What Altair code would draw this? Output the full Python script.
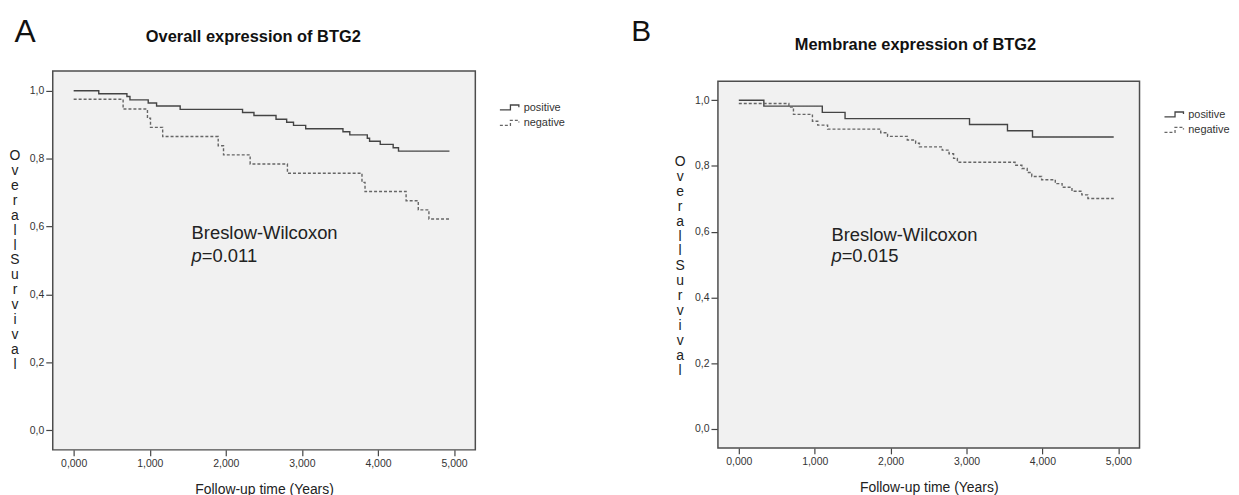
import altair as alt
import pandas as pd

FONT = "Liberation Sans"
GROUPS = ["positive", "negative"]
X_TICKS = [0, 1, 2, 3, 4, 5]
Y_TICKS = [0.0, 0.2, 0.4, 0.6, 0.8, 1.0]
Y_TITLE = list("Overall") + list("Survival")

# Panel A: Overall expression of BTG2
A_POS_T = [0, 0.33, 0.70, 0.74, 0.98, 1.09, 1.40, 2.22, 2.37, 2.66, 2.80, 2.89, 3.05, 3.54, 3.63, 3.86, 3.89, 4.03, 4.20, 4.27, 4.94]
A_POS_S = [1.0, 0.991, 0.983, 0.973, 0.964, 0.955, 0.945, 0.936, 0.927, 0.916, 0.907, 0.898, 0.888, 0.879, 0.870, 0.860, 0.851, 0.842, 0.832, 0.822, 0.822]
A_NEG_T = [0, 0.65, 0.97, 1.01, 1.17, 1.90, 1.97, 2.32, 2.81, 3.79, 3.83, 4.37, 4.53, 4.67, 4.94]
A_NEG_S = [0.975, 0.946, 0.919, 0.892, 0.865, 0.838, 0.811, 0.784, 0.757, 0.730, 0.703, 0.676, 0.649, 0.622, 0.622]

# Panel B: Membrane expression of BTG2
B_POS_T = [0, 0.33, 1.10, 1.40, 3.04, 3.54, 3.87, 4.94]
B_POS_S = [1.0, 0.982, 0.963, 0.944, 0.926, 0.907, 0.888, 0.888]
B_NEG_T = [0, 0.66, 0.72, 0.97, 1.04, 1.17, 1.87, 1.96, 2.22, 2.33, 2.38, 2.68, 2.77, 2.83, 2.88,
           3.64, 3.73, 3.80, 3.86, 3.99, 4.17, 4.26, 4.39, 4.52, 4.60, 4.94]
B_NEG_S = [0.990, 0.979, 0.957, 0.936, 0.924, 0.912, 0.901, 0.890, 0.879, 0.869, 0.858, 0.848, 0.837, 0.823, 0.811,
           0.802, 0.792, 0.780, 0.768, 0.758, 0.746, 0.735, 0.723, 0.712, 0.701, 0.701]

TITLES = ["Overall expression of BTG2", "Membrane expression of BTG2"]
LETTERS = ["A", "B"]
TEST_NAME = "Breslow-Wilcoxon"
P_TEXT = ["=0.011", "=0.015"]

X_DOMAIN = [-0.275, 5.28]

LEGEND_PATH = "M-1.4,0.3H0.1V-0.4H1.3V-0.1"


def panel(pos_t, pos_s, neg_t, neg_s, title, letter, ptext, w, h, lay):
    df = pd.DataFrame({
        "t": pos_t + neg_t,
        "s": pos_s + neg_s,
        "group": ["positive"] * len(pos_t) + ["negative"] * len(neg_t),
    })
    xax = alt.Axis(values=X_TICKS, format=".3f", labelExpr="replace(datum.label, '.', ',')",
                   title="Follow-up time (Years)", titleFontSize=14, titlePadding=13,
                   tickSize=6, labelPadding=3, labelFontSize=10.5)
    yax = alt.Axis(values=Y_TICKS, format=".1f", labelExpr="replace(datum.label, '.', ',')",
                   title=Y_TITLE, titleAngle=0, titleX=-38.5, titleY=lay["ytitle_y"],
                   titleAlign="center", titleBaseline="middle", titleFontSize=14,
                   titleLineHeight=15, tickSize=7, labelPadding=2, labelFontSize=10.5)
    xs = alt.Scale(domain=X_DOMAIN, nice=False, zero=False)
    ys = alt.Scale(domain=lay["y_domain"], nice=False, zero=False)
    X = alt.X("t:Q", scale=xs, axis=xax)
    Y = alt.Y("s:Q", scale=ys, axis=yax)
    leg = alt.Legend(orient="none", legendX=lay["leg_x"], legendY=lay["leg_y"],
                     symbolType=LEGEND_PATH, symbolSize=200, symbolStrokeWidth=1.3,
                     symbolFillColor="transparent", labelFontSize=11, labelFont=FONT,
                     labelColor="#333", labelOffset=6, rowPadding=2.5, padding=0)
    head_df = pd.DataFrame({"lab": [letter], "title": [title]})

    frame = alt.Chart(head_df).mark_rect(
        fill="#f1f1f1", stroke="#4d4d4d", strokeWidth=1.5
    ).encode(x=alt.value(0), x2=alt.value(w), y=alt.value(lay["frame_top"]), y2=alt.value(h))

    lines = alt.Chart(df).mark_line(interpolate="step-after", strokeWidth=1.4).encode(
        x=X, y=Y,
        color=alt.Color("group:N", title=None,
                        scale=alt.Scale(domain=GROUPS, range=["#444444", "#666666"]), legend=leg),
        strokeDash=alt.StrokeDash("group:N", title=None,
                                  scale=alt.Scale(domain=GROUPS, range=[[1, 0], [3, 2]]), legend=leg),
    )
    letter_mark = alt.Chart(head_df).mark_text(
        align="left", baseline="alphabetic", fontSize=lay["letter_size"], font=FONT, color="#111"
    ).encode(x=alt.value(lay["letter_x"]), y=alt.value(lay["letter_y"]), text="lab:N")
    title_mark = alt.Chart(head_df).mark_text(
        align="center", baseline="alphabetic", fontSize=16.5, fontWeight="bold", font=FONT, color="#111"
    ).encode(x=alt.value(lay["title_x"]), y=alt.value(lay["title_y"]), text="title:N")

    ann_df = pd.DataFrame({"t": [lay["ann_t"]], "s": [lay["ann_s"]], "lab": [TEST_NAME]})
    ann = alt.Chart(ann_df).mark_text(
        align="left", baseline="middle", fontSize=18.5, font=FONT, color="#222"
    ).encode(x=X, y=Y, text="lab:N")

    p_df = pd.DataFrame({"t": [lay["ann_t"]], "s": [lay["p_s"]], "lab": ["p"], "rest": [ptext]})
    p_it = alt.Chart(p_df).mark_text(
        align="left", baseline="middle", fontSize=18.5, font=FONT, fontStyle="italic", color="#222"
    ).encode(x=X, y=Y, text="lab:N")
    p_rest = alt.Chart(p_df).mark_text(
        align="left", baseline="middle", fontSize=18.5, font=FONT, color="#222", dx=10.3
    ).encode(x=X, y=Y, text="rest:N")

    return alt.layer(frame, lines, letter_mark, title_mark, ann, p_it, p_rest).properties(
        width=w, height=h
    )


# A: plot 425 x 381, frame fills the whole plot area
lay_a = dict(y_domain=[-0.058, 1.058], frame_top=0, ytitle_y=85,
             leg_x=451.6, leg_y=29, letter_size=32, letter_x=-38.5, letter_y=-29.7,
             title_x=201.7, title_y=-29, ann_t=1.55, ann_s=0.580, p_s=0.513)
# B: plot area starts level with A; its frame starts 10.3 px lower
lay_b = dict(y_domain=[-0.058, 1.0887], frame_top=10.3, ytitle_y=91,
             leg_x=451, leg_y=36, letter_size=30, letter_x=-87.3, letter_y=-30.7,
             title_x=198.7, title_y=-20.7, ann_t=1.22, ann_s=0.59, p_s=0.526)

pa = panel(A_POS_T, A_POS_S, A_NEG_T, A_NEG_S, TITLES[0], LETTERS[0], P_TEXT[0], 425, 381, lay_a)
pb = panel(B_POS_T, B_POS_S, B_NEG_T, B_NEG_S, TITLES[1], LETTERS[1], P_TEXT[1], 424, 379, lay_b)

chart = alt.hconcat(pa, pb, spacing=64).resolve_scale(
    color="independent", strokeDash="independent"
).properties(
    padding={"left": 0, "top": 5, "right": 0, "bottom": 0},
    background="white",
).configure_view(
    fill="transparent", stroke="transparent"
).configure_axis(
    domain=False, grid=False, tickColor="#444444", tickWidth=1.2,
    labelColor="#333333", titleColor="#222222", labelFont=FONT, titleFont=FONT,
    titleFontWeight="normal"
)

chart.save("out.html", embed_options={"renderer": "svg", "actions": False})
